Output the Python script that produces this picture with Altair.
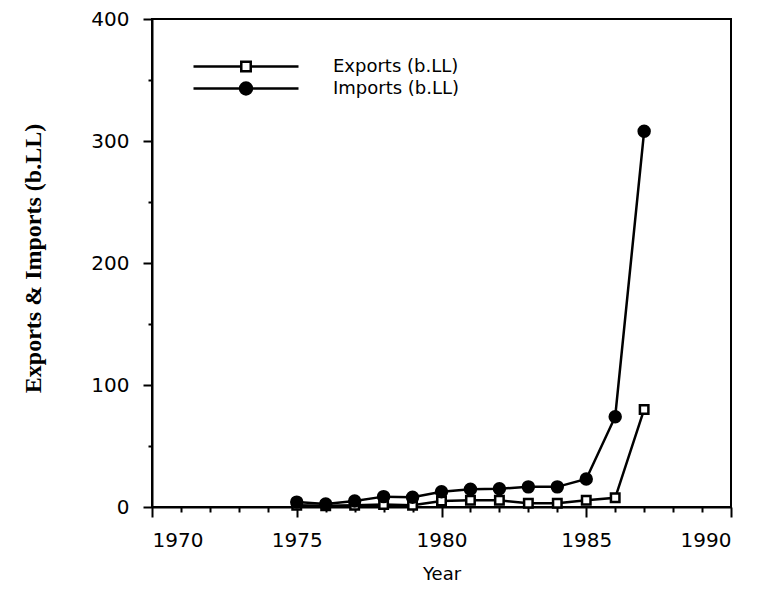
import altair as alt
import pandas as pd

years = list(range(1975, 1988))
exports = [1.5, 1.0, 1.5, 2.0, 1.5, 5.0, 5.5, 5.5, 3.0, 3.0, 5.5, 7.5, 80.0]
imports = [4.0, 2.5, 5.0, 8.5, 8.0, 12.5, 14.5, 15.0, 16.5, 16.5, 23.0, 74.0, 308.0]
series_names = ["Exports (b.LL)", "Imports (b.LL)"]
x_ticks = list(range(1970, 1991))
y_ticks = list(range(0, 401, 50))

df = pd.DataFrame({
    "year": years + years,
    "value": exports + imports,
    "series": [series_names[0]] * len(years) + [series_names[1]] * len(years),
})

FONT = "DejaVu Sans"

x_enc = alt.X(
    "year:Q",
    scale=alt.Scale(domain=[1970, 1990], nice=False, zero=False),
    axis=alt.Axis(
        values=x_ticks,
        format="d",
        labelExpr="datum.value % 5 === 0 ? datum.label : ''",
        tickSize={"condition": {"test": "datum.value % 5 === 0", "value": 10}, "value": 5},
        labelPadding=13,
        labelFont=FONT,
        labelFontSize=20,
        labelColor="black",
        title="Year",
        titleFont=FONT,
        titleFontSize=18,
        titleFontWeight="normal",
        titleColor="black",
        titleBaseline="alphabetic",
        titleY=72,
        grid=False,
    ),
)
y_enc = alt.Y(
    "value:Q",
    scale=alt.Scale(domain=[0, 400], nice=False),
    axis=alt.Axis(
        values=y_ticks,
        labelExpr="datum.value % 100 === 0 ? datum.label : ''",
        tickSize={"condition": {"test": "datum.value % 100 === 0", "value": 9}, "value": 4},
        labelPadding=14,
        labelFont=FONT,
        labelFontSize=20,
        labelColor="black",
        title="Exports & Imports (b.LL)",
        titleFont="Liberation Serif",
        titleFontSize=24,
        titleFontWeight="bold",
        titleColor="black",
        titleX=-119,
        titleY=239,
        titleBaseline="middle",
        grid=False,
    ),
)

lines = alt.Chart(df).mark_line(color="black", strokeWidth=2.5).encode(
    x=x_enc, y=y_enc, detail="series:N"
)

points = alt.Chart(df).mark_point(filled=True, stroke="black", strokeWidth=2.5, opacity=1).encode(
    x=x_enc,
    y=y_enc,
    shape=alt.Shape("series:N", scale=alt.Scale(domain=series_names, range=["square", "circle"]), legend=None),
    fill=alt.Fill("series:N", scale=alt.Scale(domain=series_names, range=["white", "black"]), legend=None),
    size=alt.Size("series:N", scale=alt.Scale(domain=series_names, range=[72, 120]), legend=None),
)

sq_path = "M-1,0H-0.09M0.09,0H1M-0.09,-0.09H0.09V0.09H-0.09Z"
ci_path = "M-1,0H1M-0.114,0A0.114,0.114,0,1,0,0.114,0A0.114,0.114,0,1,0,-0.114,0Z"

legend_props = dict(
    orient="none",
    legendX=40,
    legendY=37,
    title=None,
    padding=0,
    rowPadding=1,
    clipHeight=21,
    symbolSize=11025,
    symbolStrokeWidth=2.5,
    symbolStrokeColor="black",
    labelFont=FONT,
    labelFontSize=18,
    labelColor="black",
    labelOffset=33,
)

legend_layer = alt.Chart(df).transform_filter("false").mark_point(
    filled=True, strokeWidth=2.5, opacity=1
).encode(
    x=x_enc,
    y=y_enc,
    shape=alt.Shape(
        "series:N",
        scale=alt.Scale(domain=series_names, range=[sq_path, ci_path]),
        legend=alt.Legend(**legend_props),
    ),
    fill=alt.Fill(
        "series:N",
        scale=alt.Scale(domain=series_names, range=["white", "black"]),
        legend=alt.Legend(**legend_props),
    ),
    stroke=alt.Stroke(
        "series:N",
        scale=alt.Scale(domain=series_names, range=["black", "black"]),
        legend=alt.Legend(**legend_props),
    ),
)

chart = (
    alt.layer(lines, points, legend_layer)
    .resolve_scale(shape="independent", fill="independent", stroke="independent")
    .properties(
        width=579,
        height=488,
        autosize=alt.AutoSizeParams(type="none"),
        padding={"left": 144, "top": 11, "right": 20, "bottom": 78},
        background="white",
    )
    .configure_view(stroke="black", strokeWidth=2)
    .configure_axis(
        domainColor="black",
        domainWidth=2,
        tickColor="black",
        tickWidth=2,
    )
)

chart.save("out.html", embed_options={"renderer": "svg", "actions": False})
